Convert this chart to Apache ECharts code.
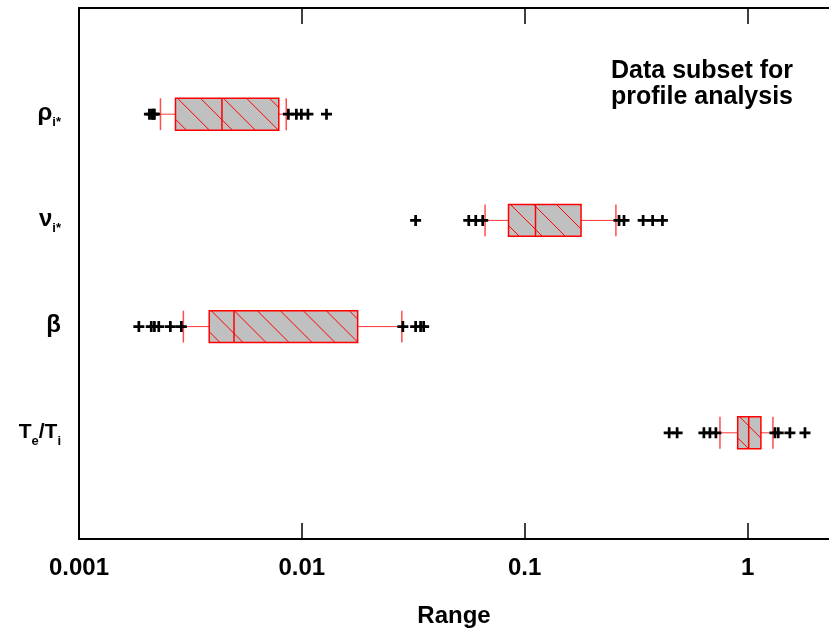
<!DOCTYPE html>
<html><head><meta charset="utf-8">
<script src="https://cdn.jsdelivr.net/npm/echarts@6/dist/echarts.min.js"></script>
<style>html,body{margin:0;padding:0;background:#fff}#c{width:829px;height:629px}</style>
</head><body><div id="c"></div>
<script>
// ---- data ----
const categories = ['rho_i*', 'nu_i*', 'beta', 'Te/Ti'];
const categoryLabels = ['{m|ρ}{s|i*}', '{m|ν}{s|i*}', '{m|β}', '{t|T}{s|e}{t|/T}{s|i}'];
const whiskerLow  = [0.00232, 0.0664, 0.00294, 0.752];
const q1          = [0.00271, 0.0846, 0.00384, 0.903];
const median      = [0.00438, 0.1118, 0.00496, 1.012];
const q3          = [0.00788, 0.179,  0.0178,  1.148];
const whiskerHigh = [0.00851, 0.2566, 0.0281,  1.30];
const outliersRho  = [0.00207, 0.00212, 0.00216, 0.00218, 0.0087, 0.00945, 0.00995, 0.01065, 0.0129];
const outliersNu   = [0.0324, 0.0561, 0.0603, 0.0648, 0.265, 0.279, 0.340, 0.375, 0.415];
const outliersBeta = [0.001856, 0.00211, 0.00218, 0.00228, 0.00257, 0.00288, 0.0284, 0.0324, 0.0341, 0.0352];
const outliersTeTi = [0.445, 0.483, 0.637, 0.678, 0.721, 1.327, 1.373, 1.549, 1.81];
const xTickValues = [0.001, 0.01, 0.1, 1];
const xTickLabels = ['0.001', '0.01', '0.1', '1'];
const xMin = 0.001, xMax = 2.32;
const annotation = 'Data subset for\nprofile analysis';
const xName = 'Range';

// ---- build ----
const boxData = categories.map((c, i) => [i + 1, whiskerLow[i], q1[i], median[i], q3[i], whiskerHigh[i]]);
const outlierLists = [outliersRho, outliersNu, outliersBeta, outliersTeTi];
const outlierData = [];
outlierLists.forEach((arr, i) => arr.forEach(v => outlierData.push([v, i + 1])));

const RED = '#ff0000';
const HALF = 0.15;

function renderBox(params, api) {
  const y = api.value(0);
  const lo = api.value(1), a = api.value(2), m = api.value(3), b = api.value(4), hi = api.value(5);
  const yt = api.coord([a, y - HALF])[1];
  const yb = api.coord([a, y + HALF])[1];
  const yc = api.coord([a, y])[1];
  const xlo = api.coord([lo, y])[0], xa = api.coord([a, y])[0], xm = api.coord([m, y])[0];
  const xb = api.coord([b, y])[0], xhi = api.coord([hi, y])[0];
  const H = yb - yt;
  const children = [];
  children.push({type: 'rect', shape: {x: xa, y: yt, width: xb - xa, height: H},
    style: {fill: '#c0c0c0', stroke: null}});
  // hatch lines (45 deg, "\" direction), clipped to the box
  const step = 23;
  for (let c = xa + 2 - step; c < xb; c += step) {
    const t0 = Math.max(0, xa - c), t1 = Math.min(H, xb - c);
    if (t1 <= t0) continue;
    children.push({type: 'line', shape: {x1: c + t0, y1: yt + t0, x2: c + t1, y2: yt + t1},
      style: {stroke: RED, lineWidth: 1}});
  }
  children.push({type: 'rect', shape: {x: xa, y: yt, width: xb - xa, height: H},
    style: {fill: null, stroke: RED, lineWidth: 1.5}});
  children.push({type: 'line', shape: {x1: xm, y1: yt, x2: xm, y2: yb}, style: {stroke: RED, lineWidth: 1.5}});
  children.push({type: 'line', shape: {x1: xlo, y1: yc, x2: xa, y2: yc}, style: {stroke: RED, lineWidth: 1, opacity: 0.8}});
  children.push({type: 'line', shape: {x1: xb, y1: yc, x2: xhi, y2: yc}, style: {stroke: RED, lineWidth: 1, opacity: 0.8}});
  children.push({type: 'line', shape: {x1: xlo, y1: yt, x2: xlo, y2: yb}, style: {stroke: RED, lineWidth: 1.5, opacity: 0.7}});
  children.push({type: 'line', shape: {x1: xhi, y1: yt, x2: xhi, y2: yb}, style: {stroke: RED, lineWidth: 1.5, opacity: 0.7}});
  return {type: 'group', children};
}

const FONT = 'Liberation Sans, Arial, sans-serif';
const chart = echarts.init(document.getElementById('c'), null, {renderer: 'canvas'});
const xAxisBase = {
  type: 'log', logBase: 10, min: xMin, max: xMax,
  axisLine: {show: true, onZero: false, lineStyle: {color: '#000', width: 2}},
  axisTick: {show: true, inside: true, length: 16, customValues: xTickValues, lineStyle: {color: '#000', width: 1.5}},
  splitLine: {show: false}, minorTick: {show: false}
};
chart.setOption({
  animation: false,
  backgroundColor: '#fff',
  grid: {left: 79, right: 0, top: 8, bottom: 90, containLabel: false, outerBoundsMode: 'none'},
  xAxis: [
    Object.assign({}, xAxisBase, {
      position: 'bottom', name: xName, nameLocation: 'middle', nameGap: 65,
      nameTextStyle: {fontSize: 24, fontWeight: 'bold', color: '#000', fontFamily: FONT},
      axisLabel: {show: true, margin: 17, fontSize: 24, fontWeight: 'bold', color: '#000', fontFamily: FONT,
        customValues: xTickValues,
        formatter: v => { const k = xTickValues.findIndex(t => Math.abs(Math.log10(t) - Math.log10(v)) < 1e-6); return k >= 0 ? xTickLabels[k] : ''; }}
    }),
    Object.assign({}, xAxisBase, {position: 'top', axisLabel: {show: false}})
  ],
  yAxis: {
    type: 'value', min: 0, max: 5, interval: 1, inverse: true,
    axisLine: {show: true, onZero: false, lineStyle: {color: '#000', width: 2}},
    axisTick: {show: false}, splitLine: {show: false},
    axisLabel: {
      margin: 18, color: '#000',
      formatter: v => categoryLabels[v - 1] || '',
      rich: {
        m: {fontSize: 24, fontWeight: 'bold', color: '#000', fontFamily: FONT, verticalAlign: 'top', lineHeight: 26},
        t: {fontSize: 21, fontWeight: 'bold', color: '#000', fontFamily: FONT, verticalAlign: 'top', lineHeight: 26, padding: [2, 0, 0, 0]},
        s: {fontSize: 13, fontWeight: 'bold', color: '#000', fontFamily: FONT, verticalAlign: 'top', padding: [15, 0, 0, 0], lineHeight: 15}
      }
    }
  },
  graphic: [{
    type: 'text', left: 611, top: 58,
    style: {text: annotation, fontSize: 25, fontWeight: 'bold', fill: '#000', fontFamily: FONT, lineHeight: 26, textAlign: 'left'}
  }],
  series: [
    {type: 'custom', renderItem: renderBox, data: boxData, encode: {x: [1, 2, 3, 4, 5], y: 0}, clip: false, z: 2},
    {type: 'scatter', data: outlierData, symbol: 'path://M4,0h2.6v4h4v2.6h-4v4h-2.6v-4h-4v-2.6h4z', symbolSize: 11,
      itemStyle: {color: '#000', opacity: 1}, z: 3}
  ]
});
</script></body></html>
